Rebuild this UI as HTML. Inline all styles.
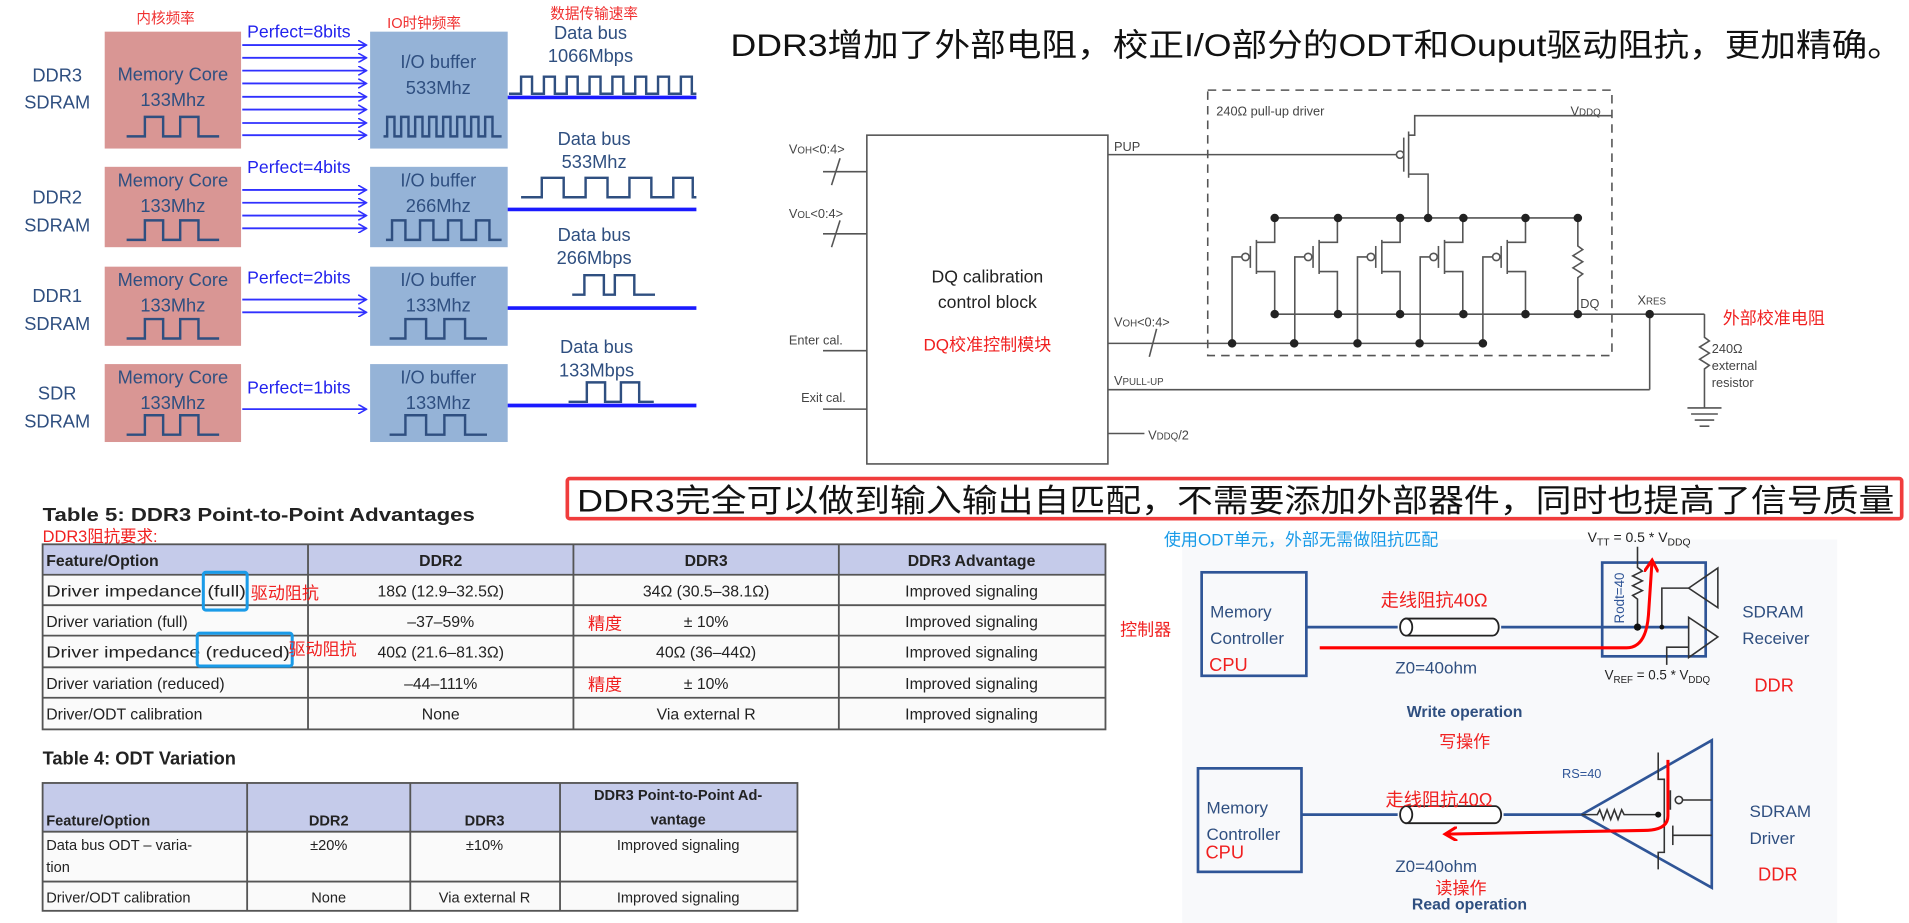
<!DOCTYPE html>
<html><head><meta charset="utf-8"><style>
html,body{margin:0;padding:0;background:#fff;overflow:hidden}
svg{display:block}
text{font-family:"Liberation Sans","Noto Sans CJK SC",sans-serif}
</style></head><body>
<svg width="1909" height="923" viewBox="0 0 1568 758" preserveAspectRatio="none" xmlns="http://www.w3.org/2000/svg">
<defs>
<marker id="ab" markerWidth="8" markerHeight="8" refX="7" refY="4" orient="auto" markerUnits="userSpaceOnUse"><path d="M0,0 L7,4 L0,8" fill="none" stroke="#3030ff" stroke-width="1.3"/></marker>
<marker id="ar" markerWidth="12" markerHeight="12" refX="10" refY="6" orient="auto" markerUnits="userSpaceOnUse"><path d="M0,0 L10,6 L0,12" fill="none" stroke="#f00" stroke-width="2.5"/></marker>
</defs>
<rect width="1568" height="758" fill="#fff"/>

<!-- ===== LEFT PANEL ===== -->
<g font-size="12" fill="#f03030">
<text x="112" y="19">内核频率</text><text x="318" y="23">IO时钟频率</text><text x="452" y="15">数据传输速率</text>
</g>
<g fill="#2f4f80" font-size="15" text-anchor="middle">
<text x="47" y="67">DDR3</text><text x="47" y="89">SDRAM</text>
<text x="47" y="167">DDR2</text><text x="47" y="190">SDRAM</text>
<text x="47" y="248">DDR1</text><text x="47" y="271">SDRAM</text>
<text x="47" y="328">SDR</text><text x="47" y="351">SDRAM</text>
</g>
<g fill="#d99694">
<rect x="86" y="26" width="112" height="96"/><rect x="86" y="137" width="112" height="66"/>
<rect x="86" y="219" width="112" height="65"/><rect x="86" y="299" width="112" height="64"/>
</g>
<g fill="#95b3d7">
<rect x="304" y="26" width="113" height="96"/><rect x="304" y="137" width="113" height="66"/>
<rect x="304" y="219" width="113" height="65"/><rect x="304" y="299" width="113" height="64"/>
</g>
<g fill="#2f4f80" font-size="15" text-anchor="middle">
<text x="142" y="66">Memory Core</text><text x="142" y="87">133Mhz</text>
<text x="142" y="153">Memory Core</text><text x="142" y="174">133Mhz</text>
<text x="142" y="235">Memory Core</text><text x="142" y="256">133Mhz</text>
<text x="142" y="315">Memory Core</text><text x="142" y="336">133Mhz</text>
<text x="360" y="56">I/O buffer</text><text x="360" y="77">533Mhz</text>
<text x="360" y="153">I/O buffer</text><text x="360" y="174">266Mhz</text>
<text x="360" y="235">I/O buffer</text><text x="360" y="256">133Mhz</text>
<text x="360" y="315">I/O buffer</text><text x="360" y="336">133Mhz</text>
<text x="485" y="32">Data bus</text><text x="485" y="51">1066Mbps</text>
<text x="488" y="119">Data bus</text><text x="488" y="138">533Mhz</text>
<text x="488" y="198">Data bus</text><text x="488" y="217">266Mbps</text>
<text x="490" y="290">Data bus</text><text x="490" y="309">133Mbps</text>
</g>
<g fill="none" stroke="#2f4f80" stroke-width="2">
<path d="M104 112 H119 V96 H134 V112 H148 V96 H163 V112 H180"/>
<path d="M104 197 H119 V181 H134 V197 H148 V181 H163 V197 H180"/>
<path d="M104 278 H119 V262 H134 V278 H148 V262 H163 V278 H180"/>
<path d="M104 357 H119 V341 H134 V357 H148 V341 H163 V357 H180"/>
<path d="M315 112 H318 V96 H324 V112 H329.5 V96 H335.5 V112 H341 V96 H347 V112 H352.5 V96 H358.5 V112 H364 V96 H370 V112 H375.5 V96 H381.5 V112 H387 V96 H393 V112 H398.5 V96 H404.5 V112 H412"/>
<path d="M317 197 H322 V181 H333 V197 H345 V181 H356 V197 H368 V181 H379 V197 H391 V181 H402 V197 H412"/>
<path d="M320 278 H333 V262 H350 V278 H365 V262 H382 V278 H400"/>
<path d="M320 357 H333 V341 H350 V357 H365 V341 H382 V357 H400"/>
<path d="M418 77 H428 V63 H437 V77 H446.75 V63 H455.75 V77 H465.5 V63 H474.5 V77 H484.25 V63 H493.25 V77 H503 V63 H512 V77 H521.75 V63 H530.75 V77 H540.5 V63 H549.5 V77 H559.25 V63 H568.25 V77 H572"/>
<path d="M428 162 H445 V146 H463 V162 H481 V146 H499 V162 H517 V146 H535 V162 H553 V146 H569 V162 H572"/>
<path d="M470 242 H480 V226 H496 V242 H505 V226 H521 V242 H538"/>
<path d="M467 330 H482 V314 H497 V330 H510 V314 H525 V330 H537"/>
</g>
<g stroke="#1a1aff" stroke-width="3">
<line x1="417" y1="80" x2="572" y2="80"/><line x1="417" y1="172" x2="572" y2="172"/>
<line x1="417" y1="253" x2="572" y2="253"/><line x1="417" y1="333" x2="572" y2="333"/>
</g>
<g fill="#2222ee" font-size="14.5">
<text x="203" y="31">Perfect=8bits</text><text x="203" y="142">Perfect=4bits</text>
<text x="203" y="233">Perfect=2bits</text><text x="203" y="323">Perfect=1bits</text>
</g>
<g stroke="#3030ff" stroke-width="1.5" marker-end="url(#ab)">
<line x1="199" y1="37" x2="301" y2="37"/><line x1="199" y1="47.5" x2="301" y2="47.5"/>
<line x1="199" y1="58" x2="301" y2="58"/><line x1="199" y1="68.5" x2="301" y2="68.5"/>
<line x1="199" y1="79.5" x2="301" y2="79.5"/><line x1="199" y1="90" x2="301" y2="90"/>
<line x1="199" y1="101" x2="301" y2="101"/><line x1="199" y1="111" x2="301" y2="111"/>
<line x1="199" y1="156" x2="301" y2="156"/><line x1="199" y1="166.5" x2="301" y2="166.5"/>
<line x1="199" y1="177" x2="301" y2="177"/><line x1="199" y1="187.5" x2="301" y2="187.5"/>
<line x1="199" y1="246" x2="301" y2="246"/><line x1="199" y1="256.5" x2="301" y2="256.5"/>
<line x1="199" y1="336" x2="301" y2="336"/>
</g>

<!-- ===== TOP TITLE ===== -->
<text x="600" y="46" font-size="26" fill="#111" textLength="963" lengthAdjust="spacingAndGlyphs">DDR3增加了外部电阻，校正I/O部分的ODT和Ouput驱动阻抗，更加精确。</text>

<!-- ===== CALIBRATION CIRCUIT ===== -->
<g stroke="#555" stroke-width="1.3" fill="none">
<rect x="712" y="111" width="198" height="270"/>
<rect x="992" y="74" width="332" height="218" stroke-dasharray="7,5"/>
<line x1="676" y1="141" x2="712" y2="141"/><line x1="683" y1="152" x2="690" y2="130"/>
<line x1="676" y1="192" x2="712" y2="192"/><line x1="683" y1="203" x2="690" y2="181"/>
<line x1="676" y1="288" x2="712" y2="288"/>
<line x1="676" y1="336" x2="712" y2="336"/>
<line x1="910" y1="127" x2="1147" y2="127"/>
<line x1="910" y1="282" x2="1217" y2="282"/><line x1="944" y1="293" x2="950" y2="270"/>
<line x1="910" y1="320" x2="1355" y2="320"/>
<line x1="910" y1="356" x2="940" y2="356"/>
<circle cx="1150" cy="127" r="3"/>
<line x1="1153" y1="113" x2="1153" y2="141"/>
<line x1="1157" y1="108" x2="1157" y2="146"/>
<path d="M1157 111 H1162 V95 H1324"/>
<path d="M1157 143 H1173 V179"/>
<line x1="1047" y1="179" x2="1296" y2="179"/>
<line x1="1047" y1="258" x2="1400" y2="258"/>
<g id="tr">
<path d="M1012 282 V211 H1020"/>
<circle cx="1023" cy="211" r="3"/>
<line x1="1027" y1="202" x2="1027" y2="220"/>
<line x1="1032" y1="197" x2="1032" y2="225"/>
<path d="M1032 199 H1047 V179"/>
<path d="M1032 223 H1047 V258"/>
</g>
<use href="#tr" x="51.5"/><use href="#tr" x="103"/><use href="#tr" x="154.5"/><use href="#tr" x="206"/>
<path d="M1296 179 V202 l4 3 l-8 5 l8 5 l-8 5 l8 5 l-4 3 V258"/>
<path d="M1355 258 V320"/>
<path d="M1400 258 V277 l4 3 l-8 5 l8 5 l-8 5 l8 5 l-4 3 V335"/>
<line x1="1386" y1="335" x2="1414" y2="335"/><line x1="1389" y1="340" x2="1411" y2="340"/>
<line x1="1392" y1="345" x2="1408" y2="345"/><line x1="1396" y1="350" x2="1404" y2="350"/>
</g>
<g fill="#222">
<circle cx="1047" cy="179" r="3.5"/><circle cx="1099" cy="179" r="3.5"/><circle cx="1150" cy="179" r="3.5"/><circle cx="1173" cy="179" r="3.5"/><circle cx="1202" cy="179" r="3.5"/><circle cx="1253" cy="179" r="3.5"/><circle cx="1296" cy="179" r="3.5"/>
<circle cx="1047" cy="258" r="3.5"/><circle cx="1099" cy="258" r="3.5"/><circle cx="1150" cy="258" r="3.5"/><circle cx="1202" cy="258" r="3.5"/><circle cx="1253" cy="258" r="3.5"/><circle cx="1296" cy="258" r="3.5"/><circle cx="1355" cy="258" r="3.5"/>
<circle cx="1012" cy="282" r="3.5"/><circle cx="1063" cy="282" r="3.5"/><circle cx="1115" cy="282" r="3.5"/><circle cx="1166" cy="282" r="3.5"/><circle cx="1218" cy="282" r="3.5"/>
</g>
<g fill="#444" font-size="10.5">
<text x="648" y="126">V<tspan font-size="8">OH</tspan>&lt;0:4&gt;</text>
<text x="648" y="179">V<tspan font-size="8">OL</tspan>&lt;0:4&gt;</text>
<text x="648" y="283">Enter cal.</text>
<text x="658" y="330">Exit cal.</text>
<text x="915" y="124">PUP</text>
<text x="915" y="268">V<tspan font-size="8">OH</tspan>&lt;0:4&gt;</text>
<text x="915" y="316">V<tspan font-size="8">PULL-UP</tspan></text>
<text x="943" y="361">V<tspan font-size="8">DDQ</tspan>/2</text>
<text x="999" y="95">240Ω pull-up driver</text>
<text x="1290" y="95">V<tspan font-size="8">DDQ</tspan></text>
<text x="1298" y="253">DQ</text>
<text x="1345" y="250">X<tspan font-size="8">RES</tspan></text>
<text x="1406" y="290">240Ω</text><text x="1406" y="304">external</text><text x="1406" y="318">resistor</text>
</g>
<g font-size="14.5" fill="#222" text-anchor="middle">
<text x="811" y="232">DQ calibration</text><text x="811" y="253">control block</text>
</g>
<text x="811" y="288" font-size="14" fill="#f02020" text-anchor="middle">DQ校准控制模块</text>
<text x="1415" y="266" font-size="14" fill="#f02020">外部校准电阻</text>

<!-- ===== RED CALLOUT ===== -->
<rect x="466" y="393" width="1096" height="33" fill="#fff" stroke="#f03c3c" stroke-width="3" rx="2"/>
<text x="474" y="420" font-size="26" fill="#111" textLength="1082" lengthAdjust="spacingAndGlyphs">DDR3完全可以做到输入输出自匹配，不需要添加外部器件，同时也提高了信号质量</text>

<!-- ===== TABLE 5 ===== -->
<text x="35" y="428" font-size="15.5" font-weight="bold" fill="#222" textLength="355" lengthAdjust="spacingAndGlyphs">Table 5: DDR3 Point-to-Point Advantages</text>
<text x="35" y="445" font-size="13.5" fill="#f02020">DDR3阻抗要求:</text>
<rect x="35" y="447" width="873" height="152" fill="#fafafa"/>
<rect x="35" y="447" width="873" height="25" fill="#c5cbea"/>
<g stroke="#555" stroke-width="1.5" fill="none">
<rect x="35" y="447" width="873" height="152"/>
<line x1="35" y1="472" x2="908" y2="472"/><line x1="35" y1="497" x2="908" y2="497"/>
<line x1="35" y1="522" x2="908" y2="522"/><line x1="35" y1="548" x2="908" y2="548"/><line x1="35" y1="573" x2="908" y2="573"/>
<line x1="253" y1="447" x2="253" y2="599"/><line x1="471" y1="447" x2="471" y2="599"/><line x1="689" y1="447" x2="689" y2="599"/>
</g>
<g font-size="13" fill="#222">
<text x="38" y="465" font-weight="bold">Feature/Option</text>
<g text-anchor="middle" font-weight="bold"><text x="362" y="465">DDR2</text><text x="580" y="465">DDR3</text><text x="798" y="465">DDR3 Advantage</text></g>
<text x="38" y="490" textLength="164" lengthAdjust="spacingAndGlyphs">Driver impedance (full)</text>
<text x="38" y="515">Driver variation (full)</text>
<text x="38" y="540" textLength="200" lengthAdjust="spacingAndGlyphs">Driver impedance (reduced)</text>
<text x="38" y="566">Driver variation (reduced)</text>
<text x="38" y="591">Driver/ODT calibration</text>
<g text-anchor="middle">
<text x="362" y="490">18Ω (12.9–32.5Ω)</text><text x="362" y="515">–37–59%</text><text x="362" y="540">40Ω (21.6–81.3Ω)</text><text x="362" y="566">–44–111%</text><text x="362" y="591">None</text>
<text x="580" y="490">34Ω (30.5–38.1Ω)</text><text x="580" y="515">± 10%</text><text x="580" y="540">40Ω (36–44Ω)</text><text x="580" y="566">± 10%</text><text x="580" y="591">Via external R</text>
<text x="798" y="490">Improved signaling</text><text x="798" y="515">Improved signaling</text><text x="798" y="540">Improved signaling</text><text x="798" y="566">Improved signaling</text><text x="798" y="591">Improved signaling</text>
</g>
</g>
<g stroke="#1a9be8" stroke-width="2.5" fill="none">
<rect x="167" y="470" width="36" height="31" rx="2"/>
<rect x="162" y="520" width="78" height="27" rx="2"/>
</g>
<g font-size="14" fill="#f02020">
<text x="206" y="492">驱动阻抗</text><text x="237" y="538">驱动阻抗</text>
<text x="483" y="517">精度</text><text x="483" y="567">精度</text>
</g>

<!-- ===== TABLE 4 ===== -->
<text x="35" y="628" font-size="15" font-weight="bold" fill="#222">Table 4: ODT Variation</text>
<rect x="35" y="643" width="620" height="105" fill="#fafafa"/>
<rect x="35" y="643" width="620" height="40" fill="#c5cbea"/>
<g stroke="#555" stroke-width="1.5" fill="none">
<rect x="35" y="643" width="620" height="105"/>
<line x1="35" y1="683" x2="655" y2="683"/><line x1="35" y1="724" x2="655" y2="724"/>
<line x1="203" y1="643" x2="203" y2="748"/><line x1="337" y1="643" x2="337" y2="748"/><line x1="460" y1="643" x2="460" y2="748"/>
</g>
<g font-size="12" fill="#222">
<g font-weight="bold"><text x="38" y="678">Feature/Option</text>
<g text-anchor="middle"><text x="270" y="678">DDR2</text><text x="398" y="678">DDR3</text><text x="557" y="657">DDR3 Point-to-Point Ad-</text><text x="557" y="677">vantage</text></g></g>
<text x="38" y="698">Data bus ODT – varia-</text><text x="38" y="716">tion</text>
<text x="38" y="741">Driver/ODT calibration</text>
<g text-anchor="middle">
<text x="270" y="698">±20%</text><text x="398" y="698">±10%</text><text x="557" y="698">Improved signaling</text>
<text x="270" y="741">None</text><text x="398" y="741">Via external R</text><text x="557" y="741">Improved signaling</text>
</g>
</g>

<!-- ===== ODT DIAGRAM ===== -->
<rect x="971" y="443" width="538" height="315" fill="#f8f9fb"/>
<text x="956" y="448" font-size="14" fill="#1a9be8">使用ODT单元，外部无需做阻抗匹配</text>
<text x="1304" y="445" font-size="11.5" fill="#222">V<tspan font-size="8.5" dy="3">TT</tspan><tspan dy="-3"> = 0.5 * V</tspan><tspan font-size="8.5" dy="3">DDQ</tspan></text>
<text x="1318" y="558" font-size="11" fill="#222">V<tspan font-size="8" dy="3">REF</tspan><tspan dy="-3"> = 0.5 * V</tspan><tspan font-size="8" dy="3">DDQ</tspan></text>
<g stroke="#2f5597" stroke-width="2.2" fill="none">
<rect x="987" y="470" width="86" height="85"/>
<rect x="1316" y="462" width="85" height="77"/>
<line x1="1073" y1="515" x2="1148" y2="515"/><line x1="1233" y1="515" x2="1387" y2="515"/>
<rect x="984" y="631" width="85" height="85"/>
<line x1="1069" y1="669" x2="1148" y2="669"/><line x1="1235" y1="669" x2="1299" y2="669"/>
<path d="M1299 669 L1406 608 L1406 729 Z"/>
</g>
<g stroke="#222" stroke-width="1.5" fill="#fff">
<path d="M1155 508 H1226 A5 7 0 0 1 1226 522 H1155 Z"/><ellipse cx="1155" cy="515" rx="5" ry="7"/>
<path d="M1155 662 H1228 A5 7 0 0 1 1228 676 H1155 Z"/><ellipse cx="1155" cy="669" rx="5" ry="7"/>
</g>
<g stroke="#333" stroke-width="1.3" fill="none">
<path d="M1345 449 V466 l4 3 l-8 4 l8 4 l-8 4 l8 4 l-8 4 l4 3 V515"/>
<path d="M1365 515 V483 H1387"/>
<path d="M1387 483 L1411 466.5 V499 Z"/>
<path d="M1387 507 V540 L1411 523 Z"/>
<path d="M1369 546 V531.5 H1387"/>
<path d="M1299 669 H1312 l2 -4 l3 8 l3 -8 l3 8 l3 -8 l3 8 l3 -8 l2 4 H1362"/>
<path d="M1362 618 V640 H1367 V700 H1362 V714"/>
<line x1="1372" y1="649" x2="1372" y2="665"/>
<circle cx="1379" cy="657" r="3"/><line x1="1382" y1="657" x2="1406" y2="657"/>
<line x1="1374" y1="678" x2="1374" y2="694"/><line x1="1374" y1="686" x2="1406" y2="686"/>
</g>
<circle cx="1345" cy="515" r="3" fill="#111"/><circle cx="1365" cy="515" r="2" fill="#111"/><circle cx="1362" cy="669" r="2.5" fill="#111"/>
<text transform="translate(1334,512) rotate(-90)" font-size="11" fill="#2f5597">Rodt=40</text>
<text x="1283" y="639" font-size="10.5" fill="#2f5597">RS=40</text>
<g fill="none" stroke="#f00" stroke-width="2.5">
<path d="M1084 532 H1336 Q1352 532 1354 505 L1357 460" marker-end="url(#ar)"/>
<path d="M1370 624 V670 Q1370 682 1350 682 L1187 685" marker-end="url(#ar)"/>
</g>
<g font-size="14" fill="#2f4f80">
<text x="994" y="507">Memory</text><text x="994" y="529">Controller</text>
<text x="991" y="668">Memory</text><text x="991" y="690">Controller</text>
<text x="1431" y="507">SDRAM</text><text x="1431" y="529">Receiver</text>
<text x="1437" y="671">SDRAM</text><text x="1437" y="693">Driver</text>
<text x="1146" y="553">Z0=40ohm</text><text x="1146" y="716">Z0=40ohm</text>
</g>
<g font-size="13" font-weight="bold" fill="#2f4f80" text-anchor="middle">
<text x="1203" y="589">Write operation</text><text x="1207" y="747">Read operation</text>
</g>
<g fill="#f02020">
<text x="1009" y="551" font-size="15" text-anchor="middle">CPU</text>
<text x="1006" y="705" font-size="15" text-anchor="middle">CPU</text>
<text x="920" y="522" font-size="14">控制器</text>
<text x="1134" y="498" font-size="15">走线阻抗40Ω</text>
<text x="1138" y="662" font-size="15">走线阻抗40Ω</text>
<text x="1203" y="614" font-size="14" text-anchor="middle">写操作</text>
<text x="1200" y="734" font-size="14" text-anchor="middle">读操作</text>
<text x="1441" y="568" font-size="15">DDR</text>
<text x="1444" y="723" font-size="15">DDR</text>
</g>
</svg>
</body></html>
